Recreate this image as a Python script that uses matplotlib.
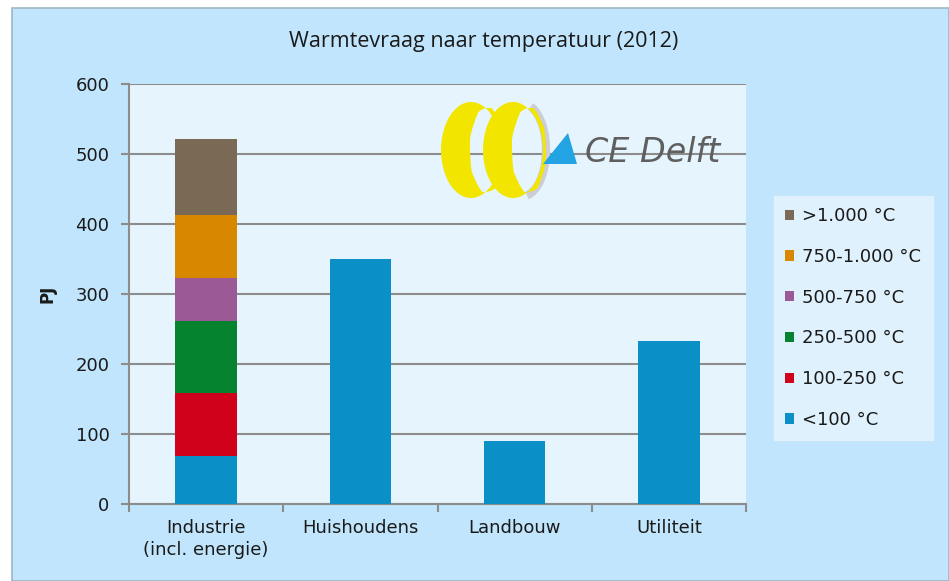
# Warmtevraag naar temperatuur (2012) - stacked bar chart

import matplotlib.pyplot as plt
import numpy as np
from matplotlib.patches import Rectangle, Patch, Polygon, PathPatch, Arc
from matplotlib.path import Path
from matplotlib.transforms import Affine2D

plt.rcParams['font.family'] = ['DejaVu Sans']

# Data
categories = ['Industrie\n(incl. energie)', 'Huishoudens', 'Landbouw', 'Utiliteit']
series_names = ['<100 °C', '100-250 °C', '250-500 °C', '500-750 °C', '750-1.000 °C', '>1.000 °C']
series_values = [
    [69, 350, 90, 233],   # <100
    [89, 0, 0, 0],        # 100-250
    [103, 0, 0, 0],       # 250-500
    [62, 0, 0, 0],        # 500-750
    [90, 0, 0, 0],        # 750-1.000
    [108, 0, 0, 0],       # >1.000
]
colors = ['#0b8fc7', '#d0021b', '#05832f', '#9b5a96', '#d88700', '#7a6a55']
yticks = [0, 100, 200, 300, 400, 500, 600]

outer_bg = '#c0e5fc'
plot_bg = '#e6f5fd'
text_col = '#1a1a1a'

W, H = 949, 581
fig = plt.figure(figsize=(W / 100, H / 100), dpi=100, facecolor='white')

# light blue chart background with thin grey border (white strip top/left)
fig.patches.append(Rectangle((12 / W, 0), 1 - 12 / W, 1 - 8 / H, transform=fig.transFigure,
                             facecolor=outer_bg, edgecolor='#9fb6c6', linewidth=1.2, zorder=-5))

ax = fig.add_axes([129 / W, 77 / H, 617 / W, 420 / H])
ax.set_facecolor(plot_bg)

x = np.arange(len(categories))
bottom = np.zeros(len(categories))
for name, vals, c in zip(series_names, series_values, colors):
    ax.bar(x, vals, 0.4, bottom=bottom, color=c, label=name, zorder=3)
    bottom += np.array(vals)

ax.set_xlim(-0.5, len(categories) - 0.5)
ax.set_ylim(0, 600)
ax.set_yticks(yticks)
ax.set_yticklabels([str(v) for v in yticks], fontsize=13, color=text_col)
ax.yaxis.grid(True, color='#8c8c8c', linewidth=1.5, zorder=1)
ax.set_axisbelow(True)

ax.set_xticks(x)
ax.set_xticklabels(categories, fontsize=13, color=text_col, linespacing=1.25)
ax.set_xticks(np.arange(-0.5, len(categories), 1.0), minor=True)
ax.tick_params(axis='x', which='major', length=0, pad=11)
ax.tick_params(axis='x', which='minor', length=6, width=1.5, color='#8c8c8c')
ax.tick_params(axis='y', length=6, width=1.5, color='#8c8c8c', pad=8)

for s in ['top', 'right']:
    ax.spines[s].set_visible(False)
for s in ['left', 'bottom']:
    ax.spines[s].set_color('#8c8c8c')
    ax.spines[s].set_linewidth(1.5)

ax.set_ylabel('PJ', fontsize=12, fontweight='bold', color=text_col, labelpad=14)

fig.text(484 / W, 1 - 42 / H, 'Warmtevraag naar temperatuur (2012)', ha='center', va='center',
         fontsize=15.5, color=text_col, family='Open Sans')

# legend, top series first
handles = [Patch(facecolor=c, label=n) for n, c in zip(series_names, colors)][::-1]
leg = fig.legend(handles=handles, loc='upper left', bbox_to_anchor=(774 / W, 1 - 196 / H),
                 frameon=True, fontsize=13, handlelength=0.5, handleheight=0.5,
                 handletextpad=0.45, labelspacing=1.26, borderpad=0.62, borderaxespad=0,
                 fancybox=False)
leg.get_frame().set_facecolor(plot_bg)
leg.get_frame().set_edgecolor(plot_bg)
for t in leg.get_texts():
    t.set_color(text_col)

# CE Delft logo, drawn in pixel coordinates
lax = fig.add_axes([435 / W, 1 - 200 / H, 305 / W, 105 / H])
lax.set_xlim(435, 740)
lax.set_ylim(200, 95)
lax.axis('off')
lax.patch.set_alpha(0)


def crescent(cx_out, cx_in, cy, w_out, h_out, w_in, h_in):
    circ = Path.unit_circle()
    outer = Affine2D().scale(w_out / 2, h_out / 2).translate(cx_out, cy).transform_path(circ)
    inner = Affine2D().scale(w_in / 2, h_in / 2).translate(cx_in, cy).transform_path(circ)
    inner = Path(inner.vertices[::-1], inner.codes)
    return Path.make_compound_path(outer, inner)


lax.add_patch(Arc((523, 150), 46, 92, theta1=-80, theta2=85, color='#cdcdd6', linewidth=6))
lax.add_patch(PathPatch(crescent(471, 487, 150, 60, 96, 34, 84), facecolor='#f2e600', edgecolor='none'))
lax.add_patch(PathPatch(crescent(513, 529, 150, 60, 96, 34, 84), facecolor='#f2e600', edgecolor='none'))
lax.add_patch(Polygon([(543, 164), (577, 164), (568, 133)], closed=True, facecolor='#22a3e4', edgecolor='none'))
lax.text(585, 152, 'CE Delft', fontsize=24, style='italic', color='#5f5f5f', va='center', ha='left')

fig.savefig('out.png', dpi=100, facecolor=fig.get_facecolor())
